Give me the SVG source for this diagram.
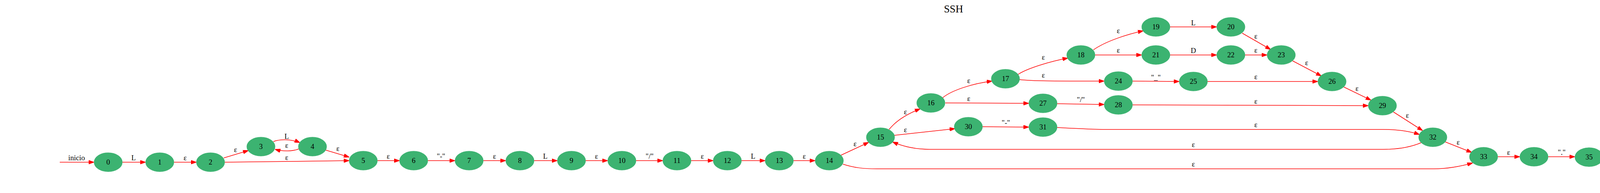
<svg xmlns="http://www.w3.org/2000/svg" width="4882" height="495" viewBox="0 0 4882 495">
<defs>
<style>
.node ellipse{fill:#3CB371;stroke:#3CB371;stroke-width:1.3}
.node text,.edge text,.title{font-family:"Liberation Serif","Times New Roman",serif;font-size:18.67px;text-anchor:middle;fill:#000}
.title{font-size:26.67px}
.edge path{fill:none;stroke:#FF0000;stroke-width:1.5;marker-end:url(#ah)}
.ring{fill:none;stroke:#3CB371;stroke-width:1.3}
</style>
<marker id="ah" markerWidth="14" markerHeight="10" refX="14" refY="5" orient="auto" markerUnits="userSpaceOnUse"><path d="M0,0 L14,5 L0,10 z" fill="#FF0000" stroke="#FF0000" stroke-width="1"/></marker>
</defs>
<rect x="0" y="0" width="4882" height="495" fill="#FFFFFF"/>
<text class="title" x="2441" y="32">SSH</text>

<g id="edges">
<g class="edge"><path d="M153,416 L241,416"/><text x="196" y="411">inicio</text></g>
<g class="edge"><path d="M313,416 L373,416"/><text x="342" y="411">L</text></g>
<g class="edge"><path d="M445,416 L503,416"/><text x="474" y="411">ε</text></g>
<g class="edge"><path d="M573,405 L636,386"/><text x="603" y="390">ε</text></g>
<g class="edge"><path d="M575,416 C700,415 800,413 894,412"/><text x="734" y="410">ε</text></g>
<g class="edge"><path d="M700,363 C715,357 745,356 768,366"/><text x="734" y="356">L</text></g>
<g class="edge"><path d="M765,382 C750,388 725,389 704,383"/><text x="734" y="379">ε</text></g>
<g class="edge"><path d="M834,385 L894,403"/><text x="865" y="387">ε</text></g>
<g class="edge"><path d="M966,412 L1023,412"/><text x="994" y="407">ε</text></g>
<g class="edge"><path d="M1095,412 L1165,412"/><text x="1129" y="407">"-"</text></g>
<g class="edge"><path d="M1237,412 L1295,412"/><text x="1266" y="407">ε</text></g>
<g class="edge"><path d="M1367,412 L1427,412"/><text x="1396" y="407">L</text></g>
<g class="edge"><path d="M1499,412 L1556,412"/><text x="1527" y="407">ε</text></g>
<g class="edge"><path d="M1628,412 L1697,412"/><text x="1663" y="407">"/"</text></g>
<g class="edge"><path d="M1769,412 L1826,412"/><text x="1798" y="407">ε</text></g>
<g class="edge"><path d="M1898,412 L1959,412"/><text x="1928" y="407">L</text></g>
<g class="edge"><path d="M2031,412 L2087,412"/><text x="2059" y="407">ε</text></g>
<g class="edge"><path d="M2153,398 L2224,365"/><text x="2189" y="375">ε</text></g>
<g class="edge"><path d="M2276,332 C2293,311 2320,293 2356,279"/><text x="2318" y="293">ε</text></g>
<g class="edge"><path d="M2290,347 L2445,330"/><text x="2318" y="339">ε</text></g>
<g class="edge"><path d="M2413,251 C2435,232 2490,214 2540,208"/><text x="2480" y="213">ε</text></g>
<g class="edge"><path d="M2420,264 L2634,265"/><text x="2480" y="259">ε</text></g>
<g class="edge"><path d="M2606,191 C2630,175 2690,157 2734,149"/><text x="2671" y="153">ε</text></g>
<g class="edge"><path d="M2610,204 C2640,208 2700,208 2827,208"/><text x="2671" y="199">ε</text></g>
<g class="edge"><path d="M2799,128 C2830,106 2885,88 2927,79"/><text x="2863" y="85">ε</text></g>
<g class="edge"><path d="M2803,141 L2923,141"/><text x="2863" y="135">ε</text></g>
<g class="edge"><path d="M2995,69 L3115,69"/><text x="3055" y="65">L</text></g>
<g class="edge"><path d="M2995,141 L3115,141"/><text x="3055" y="136">D</text></g>
<g class="edge"><path d="M3180,85 L3253,127"/><text x="3215" y="99">ε</text></g>
<g class="edge"><path d="M3187,141 L3244,141"/><text x="3215" y="135">ε</text></g>
<g class="edge"><path d="M2899,208 L3019,209"/><text x="2959" y="205">"_"</text></g>
<g class="edge"><path d="M3091,209 L3374,209"/><text x="3215" y="203">ε</text></g>
<g class="edge"><path d="M2706,266 L2827,268"/><text x="2767" y="262">"/"</text></g>
<g class="edge"><path d="M2899,269 L3503,271"/><text x="3215" y="266">ε</text></g>
<g class="edge"><path d="M2515,325 L2634,326"/><text x="2575" y="321">"-"</text></g>
<g class="edge"><path d="M2706,327 C2760,330 2800,332 2830,332 L3541,332 C3580,332 3610,337 3634,345"/><text x="3215" y="326">ε</text></g>
<g class="edge"><path d="M3309,156 L3383,195"/><text x="3345" y="167">ε</text></g>
<g class="edge"><path d="M3440,223 L3510,257"/><text x="3474" y="233">ε</text></g>
<g class="edge"><path d="M3567,287 L3642,335"/><text x="3603" y="302">ε</text></g>
<g class="edge"><path d="M3638,366 C3610,378 3580,383 3541,383 L2380,383 C2340,383 2310,375 2285,364"/><text x="3055" y="377">ε</text></g>
<g class="edge"><path d="M2158,421 C2185,430 2210,433 2245,433 L3671,433 C3710,433 3745,425 3770,418"/><text x="3055" y="427">ε</text></g>
<g class="edge"><path d="M3700,364 L3768,391"/><text x="3733" y="371">ε</text></g>
<g class="edge"><path d="M3834,402 L3891,402"/><text x="3862" y="397">ε</text></g>
<g class="edge"><path d="M3963,402 L4032,402"/><text x="3998" y="397">"."</text></g>
<g class="edge"><path d="M4104,403 L4162,403"/><text x="4133" y="398">ε</text></g>
<g class="edge"><path d="M4234,403 L4294,403"/><text x="4262" y="398">L</text></g>
<g class="edge"><path d="M4366,403 L4423,403"/><text x="4394" y="398">ε</text></g>
<g class="edge"><path d="M4493,392 L4557,372"/><text x="4524" y="377">ε</text></g>
<g class="edge"><path d="M4495,403 C4600,402 4700,400 4814,399"/><text x="4654" y="395">ε</text></g>
<g class="edge"><path d="M4621,351 C4636,345 4666,344 4688,353"/><text x="4654" y="343">L</text></g>
<g class="edge"><path d="M4685,369 C4670,375 4645,376 4621,370"/><text x="4654" y="366">ε</text></g>
<g class="edge"><path d="M4755,372 L4817,391"/><text x="4785" y="375">ε</text></g>
</g>

<g id="node0" class="node"><ellipse cx="277" cy="416" rx="36" ry="24"/><text x="277" y="422">0</text></g>
<g id="node1" class="node"><ellipse cx="409" cy="416" rx="36" ry="24"/><text x="409" y="422">1</text></g>
<g id="node2" class="node"><ellipse cx="539" cy="416" rx="36" ry="24"/><text x="539" y="422">2</text></g>
<g id="node3" class="node"><ellipse cx="668" cy="376" rx="36" ry="24"/><text x="668" y="382">3</text></g>
<g id="node4" class="node"><ellipse cx="800" cy="376" rx="36" ry="24"/><text x="800" y="382">4</text></g>
<g id="node5" class="node"><ellipse cx="930" cy="412" rx="36" ry="24"/><text x="930" y="418">5</text></g>
<g id="node6" class="node"><ellipse cx="1059" cy="412" rx="36" ry="24"/><text x="1059" y="418">6</text></g>
<g id="node7" class="node"><ellipse cx="1201" cy="412" rx="36" ry="24"/><text x="1201" y="418">7</text></g>
<g id="node8" class="node"><ellipse cx="1331" cy="412" rx="36" ry="24"/><text x="1331" y="418">8</text></g>
<g id="node9" class="node"><ellipse cx="1463" cy="412" rx="36" ry="24"/><text x="1463" y="418">9</text></g>
<g id="node10" class="node"><ellipse cx="1592" cy="412" rx="36" ry="24"/><text x="1592" y="418">10</text></g>
<g id="node11" class="node"><ellipse cx="1733" cy="412" rx="36" ry="24"/><text x="1733" y="418">11</text></g>
<g id="node12" class="node"><ellipse cx="1862" cy="412" rx="36" ry="24"/><text x="1862" y="418">12</text></g>
<g id="node13" class="node"><ellipse cx="1995" cy="412" rx="36" ry="24"/><text x="1995" y="418">13</text></g>
<g id="node14" class="node"><ellipse cx="2123" cy="412" rx="36" ry="24"/><text x="2123" y="418">14</text></g>
<g id="node15" class="node"><ellipse cx="2254" cy="352" rx="36" ry="24"/><text x="2254" y="358">15</text></g>
<g id="node16" class="node"><ellipse cx="2383" cy="264" rx="36" ry="24"/><text x="2383" y="270">16</text></g>
<g id="node17" class="node"><ellipse cx="2574" cy="202" rx="36" ry="24"/><text x="2574" y="208">17</text></g>
<g id="node18" class="node"><ellipse cx="2767" cy="141" rx="36" ry="24"/><text x="2767" y="147">18</text></g>
<g id="node19" class="node"><ellipse cx="2959" cy="69" rx="36" ry="24"/><text x="2959" y="75">19</text></g>
<g id="node20" class="node"><ellipse cx="3151" cy="69" rx="36" ry="24"/><text x="3151" y="75">20</text></g>
<g id="node21" class="node"><ellipse cx="2959" cy="141" rx="36" ry="24"/><text x="2959" y="147">21</text></g>
<g id="node22" class="node"><ellipse cx="3151" cy="141" rx="36" ry="24"/><text x="3151" y="147">22</text></g>
<g id="node23" class="node"><ellipse cx="3280" cy="141" rx="36" ry="24"/><text x="3280" y="147">23</text></g>
<g id="node24" class="node"><ellipse cx="2863" cy="208" rx="36" ry="24"/><text x="2863" y="214">24</text></g>
<g id="node25" class="node"><ellipse cx="3055" cy="209" rx="36" ry="24"/><text x="3055" y="215">25</text></g>
<g id="node26" class="node"><ellipse cx="3410" cy="209" rx="36" ry="24"/><text x="3410" y="215">26</text></g>
<g id="node27" class="node"><ellipse cx="2670" cy="265" rx="36" ry="24"/><text x="2670" y="271">27</text></g>
<g id="node28" class="node"><ellipse cx="2863" cy="269" rx="36" ry="24"/><text x="2863" y="275">28</text></g>
<g id="node29" class="node"><ellipse cx="3539" cy="271" rx="36" ry="24"/><text x="3539" y="277">29</text></g>
<g id="node30" class="node"><ellipse cx="2479" cy="325" rx="36" ry="24"/><text x="2479" y="331">30</text></g>
<g id="node31" class="node"><ellipse cx="2670" cy="326" rx="36" ry="24"/><text x="2670" y="332">31</text></g>
<g id="node32" class="node"><ellipse cx="3668" cy="352" rx="36" ry="24"/><text x="3668" y="358">32</text></g>
<g id="node33" class="node"><ellipse cx="3798" cy="402" rx="36" ry="24"/><text x="3798" y="408">33</text></g>
<g id="node34" class="node"><ellipse cx="3927" cy="402" rx="36" ry="24"/><text x="3927" y="408">34</text></g>
<g id="node35" class="node"><ellipse cx="4068" cy="403" rx="36" ry="24"/><text x="4068" y="409">35</text></g>
<g id="node36" class="node"><ellipse cx="4198" cy="403" rx="36" ry="24"/><text x="4198" y="409">36</text></g>
<g id="node37" class="node"><ellipse cx="4330" cy="403" rx="36" ry="24"/><text x="4330" y="409">37</text></g>
<g id="node38" class="node"><ellipse cx="4459" cy="403" rx="36" ry="24"/><text x="4459" y="409">38</text></g>
<g id="node39" class="node"><ellipse cx="4589" cy="363" rx="36" ry="24"/><text x="4589" y="369">39</text></g>
<g id="node40" class="node"><ellipse cx="4720" cy="363" rx="36" ry="24"/><text x="4720" y="369">40</text></g>
<g id="node41" class="node"><circle class="ring" cx="4845" cy="398" r="31"/><ellipse cx="4845" cy="398" rx="27" ry="27"/><text x="4845" y="404">41</text></g>
</svg>
